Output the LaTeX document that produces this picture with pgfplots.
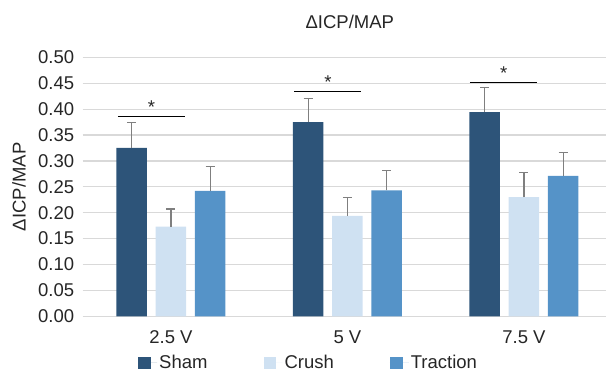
\documentclass[border=0pt]{standalone}
\usepackage{pgfplots}
\pgfplotsset{compat=1.18}
\usepackage{fontspec}
\setmainfont{Liberation Sans}
\definecolor{sham}{HTML}{2D5479}
\definecolor{crush}{HTML}{CFE1F2}
\definecolor{traction}{HTML}{5593C8}
\definecolor{txt}{HTML}{262626}
\definecolor{gridc}{HTML}{D9D9D9}
\definecolor{errc}{HTML}{7F7F7F}
\newcommand{\fs}{\fontsize{18.5bp}{22bp}\selectfont}
\begin{document}
\begin{tikzpicture}
\begin{axis}[
  at={(0,0)}, anchor=south west,
  scale only axis, clip=false,
  width=523.3bp, height=259bp,
  xmin=-0.5, xmax=2.465,
  ymin=0, ymax=0.5,
  axis line style={draw=none},
  ymajorgrids, grid style={gridc, line width=1.2bp},
  ytick={0,0.05,...,0.5},
  yticklabel style={/pgf/number format/fixed, /pgf/number format/fixed zerofill, /pgf/number format/precision=2, xshift=-5bp},
  xtick={0,1,2}, xticklabels={2.5 V, 5 V, 7.5 V},
  major tick length=0pt,
  tick label style={font=\fs, text=txt},
  /pgf/number format/assume math mode=true,
  xticklabel style={yshift=-11bp},
  ylabel={ΔICP/MAP},
  every axis y label/.style={at={(rel axis cs:-0.1217,0.5)}, rotate=90, anchor=center, font=\fs, text=txt},
  ybar, bar width=30.5bp,
  legend columns=3,
  legend style={at={(0.1057,-0.18)}, anchor=west, draw=none, fill=none, inner sep=0pt,
    font=\fs, text=txt,
    /tikz/every even column/.append style={column sep=54bp}},
  legend image code/.code={\fill[#1] (0bp,-6.3bp) rectangle (12.7bp,6.3bp); \path (0bp,0bp) -- (19bp,0bp);},
  error bars/y dir=plus, error bars/y explicit,
  error bars/error bar style={errc, line width=1.2bp},
  error bars/error mark options={rotate=90, mark size=4.5bp, errc, line width=1.2bp},
]
\addplot[fill=sham, draw=none, bar shift=-39.2bp] coordinates {(0,0.325) +- (0,0.049) (1,0.375) +- (0,0.046) (2,0.394) +- (0,0.047)};
\addlegendentry{Sham}
\addplot[fill=crush, draw=none, bar shift=0bp] coordinates {(0,0.173) +- (0,0.034) (1,0.194) +- (0,0.035) (2,0.230) +- (0,0.048)};
\addlegendentry{Crush}
\addplot[fill=traction, draw=none, bar shift=39.2bp] coordinates {(0,0.242) +- (0,0.047) (1,0.243) +- (0,0.038) (2,0.271) +- (0,0.045)};
\addlegendentry{Traction}
% significance annotations
\draw[black, line width=1.3bp] (axis cs:-0.300,0.386) -- (axis cs:0.080,0.386);
\draw[black, line width=1.3bp] (axis cs:0.700,0.434) -- (axis cs:1.079,0.434);
\draw[black, line width=1.3bp] (axis cs:1.694,0.452) -- (axis cs:2.075,0.452);
\node[anchor=base, font=\fs, text=txt, inner sep=0pt] at (axis cs:-0.110,0.392) {*};
\node[anchor=base, font=\fs, text=txt, inner sep=0pt] at (axis cs:0.890,0.440) {*};
\node[anchor=base, font=\fs, text=txt, inner sep=0pt] at (axis cs:1.885,0.458) {*};
\node[font=\fs, text=txt] at (rel axis cs:0.5104,1.135) {ΔICP/MAP};
\end{axis}
\pgfresetboundingbox
\path (-82.7bp,-61.7bp) rectangle (523.3bp,316.3bp);
\end{tikzpicture}
\end{document}
